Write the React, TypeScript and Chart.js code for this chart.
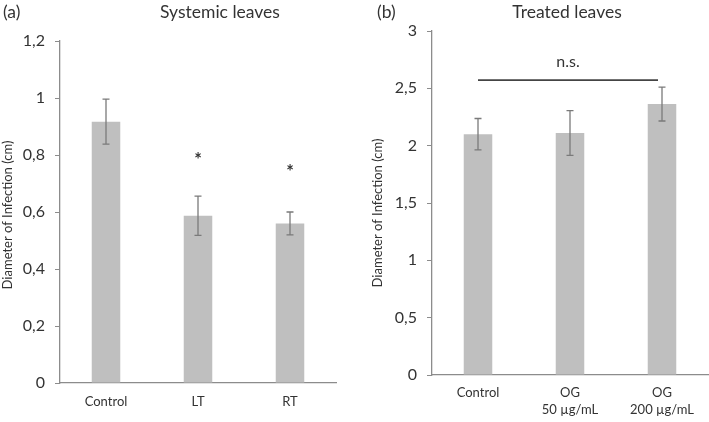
import React, { useEffect, useRef } from "react";
import { Chart, registerables } from "chart.js";

Chart.register(...registerables);

// ---- data ----
const systemicLabels = ["Control", "LT", "RT"];
const systemicMeans = [0.917, 0.587, 0.56];
const systemicErrors = [0.079, 0.069, 0.04];
const systemicMarks = ["", "*", "*"];
const systemicMarkHeights = [0, 0.79, 0.745];

const treatedLabels: (string | string[])[] = ["Control", ["OG", "50 µg/mL"], ["OG", "200 µg/mL"]];
const treatedMeans = [2.1, 2.11, 2.363];
const treatedErrors = [0.137, 0.195, 0.148];
const treatedNsLevel = 2.572;
const treatedNsTextLevel = 2.73;

const FONT = "Lato, 'Open Sans', sans-serif";
const TEXT = "#333333";
const AXIS = "#8c8c8c";
const BAR = "#bfbfbf";
const ERR = "#7a7a7a";

const fmt = (v: number) => {
  const r = Math.round(v * 10) / 10;
  return String(r).replace(".", ",");
};

type PanelCfg = {
  labels: (string | string[])[];
  means: number[];
  errors: number[];
  max: number;
  step: number;
  yWidth: number;
  padTop: number;
  padRight: number;
  xHeight: number;
  xPad: number;
  title: string;
  titleX: number;
  panel: string;
  panelX: number;
  yTitleX: number;
  yTitleY: number;
  extras: (chart: any) => void;
};

function makeChart(canvas: HTMLCanvasElement, cfg: PanelCfg) {
  const overlay = {
    id: "overlay",
    afterDatasetsDraw(chart: any) {
      const ctx = chart.ctx;
      const y = chart.scales.y;
      const meta = chart.getDatasetMeta(0);
      ctx.save();
      ctx.strokeStyle = ERR;
      ctx.lineWidth = 1.3;
      meta.data.forEach((bar: any, i: number) => {
        const v = cfg.means[i];
        const e = cfg.errors[i];
        const yt = y.getPixelForValue(v + e);
        const yb = y.getPixelForValue(v - e);
        ctx.beginPath();
        ctx.moveTo(bar.x, yt);
        ctx.lineTo(bar.x, yb);
        ctx.moveTo(bar.x - 3.5, yt);
        ctx.lineTo(bar.x + 3.5, yt);
        ctx.moveTo(bar.x - 3.5, yb);
        ctx.lineTo(bar.x + 3.5, yb);
        ctx.stroke();
      });
      ctx.restore();
      cfg.extras(chart);
    },
    afterDraw(chart: any) {
      const ctx = chart.ctx;
      ctx.save();
      ctx.fillStyle = TEXT;
      ctx.textBaseline = "middle";
      ctx.font = `17.5px ${FONT}`;
      ctx.textAlign = "center";
      ctx.fillText(cfg.title, cfg.titleX, 12);
      ctx.textAlign = "left";
      ctx.fillText(cfg.panel, cfg.panelX, 12);
      ctx.translate(cfg.yTitleX, cfg.yTitleY);
      ctx.rotate(-Math.PI / 2);
      ctx.textAlign = "center";
      ctx.font = `13px ${FONT}`;
      ctx.fillText("Diameter of Infection (cm)", 0, 0);
      ctx.restore();
    },
  };

  return new Chart(canvas, {
    type: "bar",
    data: {
      labels: cfg.labels as any,
      datasets: [
        {
          data: cfg.means,
          backgroundColor: BAR,
          borderWidth: 0,
          barPercentage: 0.31,
          categoryPercentage: 1,
        },
      ],
    },
    options: {
      responsive: false,
      animation: false,
      events: [],
      layout: { padding: { top: cfg.padTop, right: cfg.padRight, left: 0, bottom: 0 } },
      plugins: { legend: { display: false }, tooltip: { enabled: false }, title: { display: false } },
      scales: {
        x: {
          grid: { display: false },
          border: { display: true, color: AXIS, width: 1.3 },
          ticks: {
            color: TEXT,
            font: { family: FONT, size: 13, lineHeight: 1.25 },
            padding: cfg.xPad,
            maxRotation: 0,
            autoSkip: false,
          },
          afterFit: (s: any) => {
            s.height = cfg.xHeight;
          },
        },
        y: {
          min: 0,
          max: cfg.max,
          grid: {
            display: true,
            drawOnChartArea: false,
            drawTicks: true,
            tickLength: 5,
            color: AXIS,
          },
          border: { display: true, color: AXIS, width: 1.3 },
          ticks: {
            stepSize: cfg.step,
            color: TEXT,
            font: { family: FONT, size: 16 },
            padding: 10,
            callback: (v: any) => fmt(Number(v)),
          },
          afterFit: (s: any) => {
            s.width = cfg.yWidth;
          },
        },
      },
    },
    plugins: [overlay],
  });
}

export default function App() {
  const leftRef = useRef<HTMLCanvasElement>(null);
  const rightRef = useRef<HTMLCanvasElement>(null);

  useEffect(() => {
    const left = makeChart(leftRef.current!, {
      labels: systemicLabels,
      means: systemicMeans,
      errors: systemicErrors,
      max: 1.2,
      step: 0.2,
      yWidth: 60,
      padTop: 41,
      padRight: 19,
      xHeight: 39,
      xPad: 3,
      title: "Systemic leaves",
      titleX: 220,
      panel: "(a)",
      panelX: 3,
      yTitleX: 8,
      yTitleY: 215,
      extras: (chart: any) => {
        const ctx = chart.ctx;
        const y = chart.scales.y;
        const x = chart.scales.x;
        ctx.save();
        ctx.fillStyle = TEXT;
        ctx.font = `bold 18px ${FONT}`;
        ctx.textAlign = "center";
        ctx.textBaseline = "middle";
        systemicMarks.forEach((m, i) => {
          if (!m) return;
          ctx.fillText(m, x.getPixelForValue(i), y.getPixelForValue(systemicMarkHeights[i]) + 2);
        });
        ctx.restore();
      },
    });
    const right = makeChart(rightRef.current!, {
      labels: treatedLabels,
      means: treatedMeans,
      errors: treatedErrors,
      max: 3,
      step: 0.5,
      yWidth: 77,
      padTop: 31,
      padRight: 1,
      xHeight: 47,
      xPad: 2,
      title: "Treated leaves",
      titleX: 212,
      panel: "(b)",
      panelX: 22,
      yTitleX: 23,
      yTitleY: 213,
      extras: (chart: any) => {
        const ctx = chart.ctx;
        const y = chart.scales.y;
        const x = chart.scales.x;
        const ly = y.getPixelForValue(treatedNsLevel);
        const x0 = x.getPixelForValue(0);
        const x2 = x.getPixelForValue(2) - 4;
        ctx.save();
        ctx.strokeStyle = "#444444";
        ctx.lineWidth = 1.6;
        ctx.beginPath();
        ctx.moveTo(x0, ly);
        ctx.lineTo(x2, ly);
        ctx.stroke();
        ctx.fillStyle = TEXT;
        ctx.font = `16px ${FONT}`;
        ctx.textAlign = "center";
        ctx.textBaseline = "middle";
        ctx.fillText("n.s.", (x0 + x2) / 2, y.getPixelForValue(treatedNsTextLevel));
        ctx.restore();
      },
    });
    return () => {
      left.destroy();
      right.destroy();
    };
  }, []);

  return (
    <div style={{ position: "absolute", left: 0, top: 0, width: 709, height: 422, background: "#fff" }}>
      <canvas ref={leftRef} width={355} height={422} style={{ position: "absolute", left: 0, top: 0 }} />
      <canvas ref={rightRef} width={354} height={422} style={{ position: "absolute", left: 355, top: 0 }} />
    </div>
  );
}
